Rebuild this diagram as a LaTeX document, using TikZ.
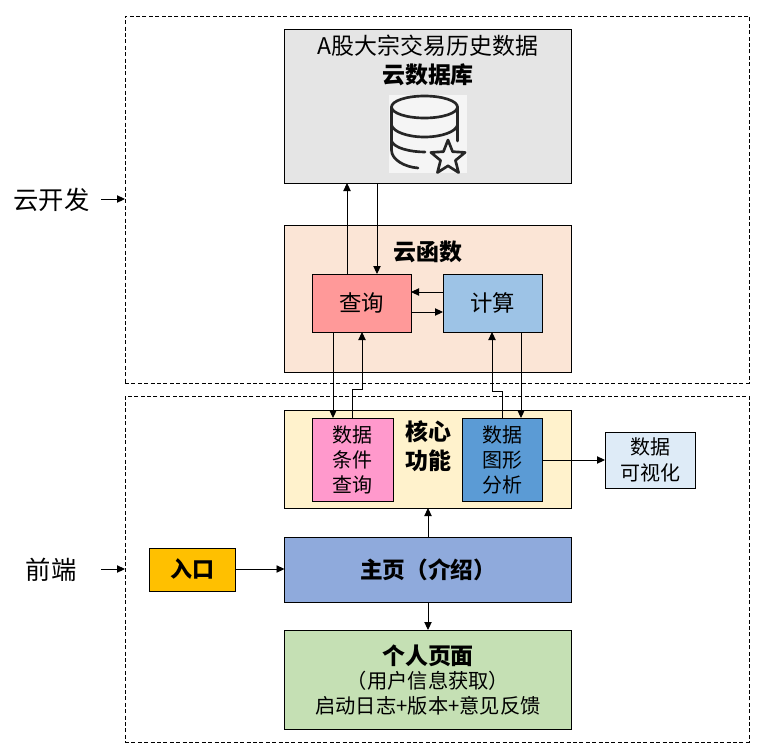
\documentclass[tikz,border=0pt]{standalone}
\usepackage{fontspec}
\setmainfont{Noto Sans CJK SC}
\usetikzlibrary{arrows.meta,shapes.geometric}
\newcommand{\fsz}[2]{\fontsize{#1}{#2}\selectfont}
\tikzset{
  bx/.style={draw=black,line width=0.75pt,inner sep=0pt,outer sep=0pt,align=center},
  zone/.style={draw=black,line width=0.7pt,dash pattern=on 3pt off 1.8pt,inner sep=0pt,outer sep=0pt},
  lab/.style={inner sep=0pt,outer sep=0pt,align=center},
  arr/.style={draw=black,line width=0.7pt,-{Triangle[length=6pt,width=5.5pt]}},
  wh/.style={minimum width=#1*0.75pt},
  ht/.style={minimum height=#1*0.75pt},
  ico/.style={line width=2pt,draw=black!85,line cap=round,line join=round}
}
\begin{document}
\begin{tikzpicture}[x=0.75pt,y=-0.75pt]
\useasboundingbox (0,0) rectangle (766,753);
% zones
\node[zone,wh=624,ht=367] (cloud) at (437,199.5) {};
\node[zone,wh=624,ht=346] (front) at (437,569) {};
% boxes
\node[bx,fill=black!10,wh=287,ht=154] (db) at (428,106) {};
\node[bx,fill={rgb,255:red,251;green,229;blue,214},wh=287,ht=147] (fn) at (428,298.5) {};
\node[bx,fill={rgb,255:red,255;green,153;blue,153},wh=99,ht=58,font=\fsz{16.8}{20}] (qry) at (361.5,303) {查询};
\node[bx,fill={rgb,255:red,157;green,195;blue,230},wh=99,ht=58,font=\fsz{16.8}{20}] (calc) at (492.5,303) {计算};
\node[bx,fill={rgb,255:red,255;green,242;blue,204},wh=287,ht=98] (core) at (428,459) {};
\node[bx,fill={rgb,255:red,255;green,153;blue,204},wh=81,ht=83,font=\fsz{15}{18.75}] (cond) at (352.5,459.5) {数据\\条件\\查询};
\node[bx,fill={rgb,255:red,91;green,155;blue,213},wh=80,ht=83,font=\fsz{15}{18.75}] (graph) at (502,459.5) {数据\\图形\\分析};
\node[bx,fill={rgb,255:red,222;green,235;blue,247},wh=90,ht=56,font=\fsz{15}{19.5}] (vis) at (650,460) {数据\\可视化};
\node[bx,fill={rgb,255:red,143;green,170;blue,220},wh=287,ht=65,font=\fsz{17}{20}\bfseries] (main) at (428,569.5) {主页（介绍）};
\node[bx,fill={rgb,255:red,197;green,224;blue,180},wh=287,ht=99] (me) at (428,679.5) {};
\node[bx,fill={rgb,255:red,255;green,192;blue,0},wh=86,ht=43,font=\fsz{16.5}{20}\bfseries] (entry) at (192,569.5) {入口};
% texts in boxes
\node[lab,font=\fsz{17.2}{20}] (t1) at (428,46) {A股大宗交易历史数据};
\node[lab,font=\fsz{17.2}{20}\bfseries] (t2) at (428,75) {云数据库};
\node[lab,font=\fsz{17.2}{20}\bfseries] (t3) at (428,252) {云函数};
\node[lab,font=\fsz{17.2}{21.5}\bfseries] (t4) at (428,446) {核心\\功能};
\node[lab,font=\fsz{17.2}{20}\bfseries] (t5) at (428,656) {个人页面};
\node[lab,font=\fsz{15.2}{18}] (t6) at (428,681) {（用户信息获取）};
\node[lab,font=\fsz{15.2}{18}] (t7) at (428,706) {启动日志+版本+意见反馈};
% side labels
\node[lab,font=\fsz{19}{22}] (s1) at (51.5,200) {云开发};
\node[lab,font=\fsz{19}{22}] (s2) at (51,570) {前端};
% icon
\node[inner sep=0pt,outer sep=0pt,fill=black!4,minimum width=58.5pt,minimum height=58.5pt] (icon) at (428,134) {};
\draw[ico] (424.5,107) ellipse (33 and 11);
\draw[ico] (391.5,107) -- (391.5,150) .. controls (391.5,160) and (405,167) .. (418,168);
\draw[ico] (457.5,107) -- (457.5,141);
\draw[ico] (391.5,125) .. controls (393,132) and (408,137) .. (424.5,137) .. controls (441,137) and (456,132) .. (457.5,125);
\draw[ico] (391.5,141) .. controls (394,148) and (410,152) .. (425,152);
\node[ico,star,star points=5,star point ratio=2.3,minimum size=27pt,inner sep=0pt,fill=none] (str) at (448,158) {};
% connector guides
\coordinate (a1) at (347,0);
\coordinate (a2) at (377,0);
\coordinate (a3) at (333,0);
\coordinate (a4) at (352,0);
\coordinate (a5) at (362,0);
\coordinate (a6) at (502,0);
\coordinate (a7) at (492,0);
\coordinate (a8) at (521,0);
\coordinate (b1) at (0,292);
\coordinate (b2) at (0,312);
\coordinate (b3) at (0,389.5);
\coordinate (b4) at (0,391);
\coordinate (b6) at (0,569);
\coordinate (b7) at (0,460);
\coordinate (c1) at (101,199);
\coordinate (c2) at (101,569);
% connectors
\draw[arr] (qry.north -| a1) -- (db.south -| a1);
\draw[arr] (db.south -| a2) -- (qry.north -| a2);
\draw[arr] (calc.west |- b1) -- (qry.east |- b1);
\draw[arr] (qry.east |- b2) -- (calc.west |- b2);
\draw[arr] (qry.south -| a3) -- (cond.north -| a3);
\draw[arr] (cond.north -| a4) -- (a4 |- b3) -- (a5 |- b3) -- (qry.south -| a5);
\draw[arr] (graph.north -| a6) -- (a6 |- b4) -- (a7 |- b4) -- (calc.south -| a7);
\draw[arr] (calc.south -| a8) -- (graph.north -| a8);
\draw[arr] (graph.east |- b7) -- (vis.west |- b7);
\draw[arr] (main.north) -- (core.south);
\draw[arr] (main.south) -- (me.north);
\draw[arr] (entry.east |- b6) -- (main.west |- b6);
\draw[arr] (c1) -- (cloud.west |- c1);
\draw[arr] (c2) -- (front.west |- c2);
\end{tikzpicture}
\end{document}
